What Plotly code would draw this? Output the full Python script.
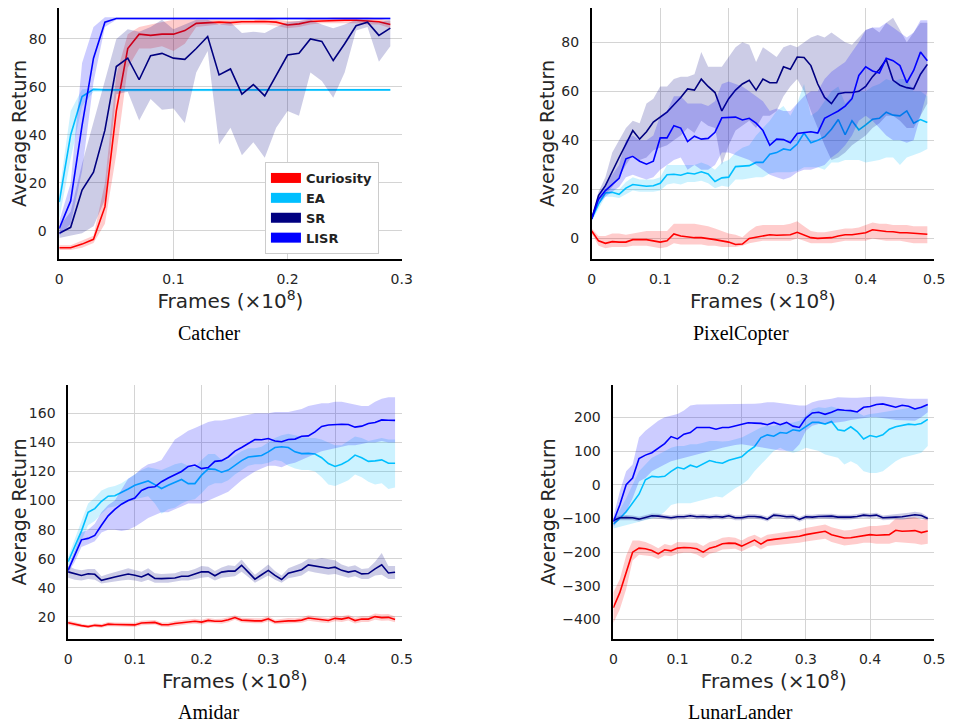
import plotly.graph_objects as go

# ---------------- data ----------------
series_names = ["Curiosity", "EA", "SR", "LISR"]
series_colors = ["#ff0000", "#00bfff", "#000080", "#0000ff"]
band_colors = ["rgba(255,0,0,0.2)", "rgba(0,191,255,0.2)", "rgba(0,0,128,0.2)", "rgba(0,0,255,0.2)"]
game_titles = ["Catcher", "PixelCopter", "Amidar", "LunarLander"]

x_catcher = [i / 100 for i in range(30)]
x_long = [i / 100 for i in range(50)]

# Catcher
cat_cur = [-7,-7,-5.5,-3.5,10,50,76,82,81.5,82,82,83.5,86.5,86.7,87,86.8,87.2,87.2,87.3,87,85.8,86.3,87.3,87.5,87.8,87.8,87.8,87.5,87.2,86]
cat_cur_lo = [-8,-8,-7,-5,3,32,68,76,76,77,75,78,85,85.5,86,85.5,86,86,86,85.5,84.5,85,86,86.5,86.5,86.5,86.5,86,86,84.5]
cat_cur_hi = [-6,-6,-4,-2,20,65,82,85,86,87,88,88,88,88,88,88,88,88,88.5,88,87.5,87.5,88.5,88.5,89,89,89,89,88.5,87.5]
cat_ea = [12,40,56,59,58.8,58.8,58.8,58.8,58.8,58.8,58.8,58.8,58.8,58.8,58.8,58.8,58.8,58.8,58.8,58.8,58.8,58.8,58.8,58.8,58.8,58.8,58.8,58.8,58.8,58.8]
cat_ea_lo = [5,30,52,58,58.3,58.3,58.3,58.3,58.3,58.3,58.3,58.3,58.3,58.3,58.3,58.3,58.3,58.3,58.3,58.3,58.3,58.3,58.3,58.3,58.3,58.3,58.3,58.3,58.3,58.3]
cat_ea_hi = [16,50,59,59.5,59.3,59.3,59.3,59.3,59.3,59.3,59.3,59.3,59.3,59.3,59.3,59.3,59.3,59.3,59.3,59.3,59.3,59.3,59.3,59.3,59.3,59.3,59.3,59.3,59.3,59.3]
cat_sr = [-1,1.5,17,24.5,42,68.5,72,63,73,74,72,71.5,76,81,65,67.5,57,61,56.3,64.5,73.3,74,80,79,71,78,85.5,87,81.5,84.5]
cat_sr_lo = [-3,-2,-1,2,13,57,58,46,55,50.5,51,45,66,75,36,43,31.5,37,30.5,43,50,48,66,62.5,55.5,66,83.5,85,70.5,77]
cat_sr_hi = [2,8,28,45,62,80,84,83,85,88,84,86,88,88,86,87,82.5,83,82.5,85,87,87.5,88,86,84.5,86,88,88,87,88]
cat_lisr = [1,12.5,44,72,87,88.5,88.5,88.5,88.5,88.5,88.5,88.5,88.5,88.5,88.5,88.5,88.5,88.5,88.5,88.5,88.5,88.5,88.5,88.5,88.5,88.5,88.5,88.5,88.5,88.5]
cat_lisr_lo = [-2,3,25,62,85,88,88,88,88,88,88,88,88,88,88,88,88,88,88,88,88,88,88,88,88,88,88,88,88,88]
cat_lisr_hi = [4,20,70,85,89,89,89,89,89,89,89,89,89,89,89,89,89,89,89,89,89,89,89,89,89,89,89,89,89,89]

# PixelCopter
pc_cur = [3,-1,-2,-1.3,-1.5,-1.5,-0.5,-0.5,-0.5,-1,-1.5,-1,1.8,1,0.5,0.3,0.3,0,-0.5,-1,-1.5,-2.5,-2.3,0,0.5,1.3,1.5,1.3,1.5,1.5,2.5,1.5,0.3,0,0,0.3,1,1.5,1.5,2,2.3,3.5,3,2.8,2.7,2.3,2.3,2,1.7,1.7]
pc_cur_lo = [2,-3,-4,-3.5,-3.5,-3.5,-3,-3,-3,-3.5,-4,-3.5,-2,-2.5,-2.5,-2.5,-2.5,-3,-3,-3.5,-3.5,-3.5,-3,-2,-1.5,-1,-1,-1,-1,-1,0,-1,-2,-2,-2,-2,-1.5,-1,-1,-1,-1,0,-0.5,-1,-1,-1,-1.5,-2,-2,-2]
pc_cur_hi = [4,1,1,2,2,1.5,2,2.5,3,3,3,3,6,6,6,6,5.5,5,4,3,2,1.5,0.5,3,5,5.5,5.5,5.5,5.5,6,7,5,3,2.5,2.5,3,3.5,4,4,4.5,5.5,6.5,6,6,5.5,5.5,5.5,5,5,5]
pc_ea = [8,14,18.5,18.8,18,20.5,22,21.5,21.3,21.5,22.5,26,26.2,25.8,26.7,26.3,27.2,26.3,23.2,24.7,25,29.3,29.4,29.7,31,31,34.3,35,36.5,36,38.5,43,39,40,41.5,44.5,48.5,42.3,48,44.3,46.3,48.6,49,51.5,50.3,50,52,47,48.5,47.3]
pc_ea_lo = [7,12,17,17,16.5,18,19.5,19,19,19,19.5,22,22.5,22,23,23,23.5,22.5,20.5,21.5,21,24,24,24.5,25,25,26.5,27,27,27,27.5,29,29,29,28,31,31,32,32,32,31,31.5,32,33,33,30,33,34,35,36.5]
pc_ea_hi = [9,16,20,20.5,20,23,25,24,24,24,25,30,30,30,30,30,31,30,28,31,32,35,37,38,42,45,48,52,54,50,55,63,50,52,56,60,62,55,58,60,60,62,63,65,64,65,65,60,60,58]
pc_sr = [8,17.5,21.5,27.5,33,38.5,44,40.5,43.5,47.5,49.5,51.5,54.5,57.5,61,60.5,65,62,59.5,52,57,60.5,63,64.5,60.5,65,63.5,63.5,70,69,74,73.8,70.5,63,57.5,55,59,59.5,59.5,60,62,66,69,73,64.5,62.5,61.5,61,67,71]
pc_sr_lo = [7,15,18,21,25,30,34,32,33,36,37,38,40,42,45,43,48,46,45,30,38,44,46,48,45,50,50,52,58,62,65,60,52,45,38,32,33,35,38,40,42,45,47,50,50,48,45,45,50,55]
pc_sr_hi = [9,19,25,35,40,45,48,47,55,57,62,62,65,66,66,67,76,70,70,70,74,78,80,79,72,78,76,74,78,79,78,80,82,83,82,84,82,80,79,82,85,86,84,88,90,85,80,84,88,88]
pc_lisr = [8,16,19.5,22,24.5,32.5,33.5,31.5,30.3,31.5,41,41,46,45,39.5,41.7,40.5,40.8,43.3,49.2,49.5,49.5,48.3,49,47,44,38,40.5,40.3,39,42.8,43.3,43.5,43,49,50.5,52,54,57,66.5,70,68.3,67.5,73.5,72.5,70.5,63.5,68.5,76,72.5]
pc_lisr_lo = [7,14,17,19,21,25,26,25,24,25,28,30,32,33,28,30,28,28,30,35,35,34,33,32,30,28,26,25,24,25,27,28,28,29,30,33,35,38,42,48,50,48,45,42,40,40,39,40,50,60]
pc_lisr_hi = [9,18,22,26,30,40,42,40,40,42,50,52,58,58,55,55,55,54,56,63,64,63,62,60,58,56,52,53,52,52,55,58,60,60,65,68,70,72,76,80,85,86,86,88,86,84,82,84,89,89]

# Amidar
am_cur = [16,14.8,14,13.3,14.2,13.8,15,14.8,14.8,14.7,14.5,15.8,16,16.2,14.7,14.6,15.5,16,16.6,17,16.4,17.6,17,17,18,19.6,17.8,17.4,17.3,17.3,18.7,16.5,17,17.3,17.3,17.8,19.2,18.5,18,17.5,19,18.5,19.5,17.5,18.5,18.5,20.2,19.5,19.7,18.2]
am_cur_lo = [14.5,13.5,12.8,12.3,13,12.5,13.5,13.5,13.3,13.2,13,14.3,14.5,14.7,13.2,13,13.8,14.3,15,15.3,14.8,16,15.5,15.3,16.3,18,16.2,15.8,15.7,15.7,17,15,15.3,15.5,15.7,16,17.3,16.7,16.2,15.8,17,16.5,17.5,15.5,16.5,16.5,18,17.3,17.5,16.3]
am_cur_hi = [17.5,16.2,15.3,14.5,15.4,15.2,16.5,16.2,16.3,16.2,16,17.3,17.5,17.8,16.2,16.2,17.2,17.7,18.3,18.7,18,19.3,18.5,18.7,19.8,21.2,19.5,19,19,19,20.5,18,18.7,19.2,19,19.6,21.2,20.3,19.8,19.2,21,20.5,21.5,19.5,20.5,20.5,22.3,21.8,22,20.2]
am_ea = [58,68,79,92,94.5,99.5,103,103.3,105.5,108,110.5,112,113.5,111,108.3,110.5,112.5,114.5,111.7,111.7,117.5,121.8,121.5,119.5,121,124.5,127.5,130,130.5,131,133.5,136.5,137,136.5,133.5,132.3,132.5,132,129.5,125.5,123.5,125,127.5,131.3,129.5,127,127.3,128,125.7,125.7]
am_ea_lo = [55,62,72,83,86,91,95,96,98,99,101,102,103,98,91,94,95,98,100,101,105,110,112,112,114,118,121,124,125,125,126,128,127,124,122,121,121,120,116,111,110,112,114,118,116,113,111,112,108,109]
am_ea_hi = [61,74,86,98,102,107,109,110,112,115,118,121,123,122,121,123,125,126,124,123,128,132,132,128,128,131,134,136,136,137,140,143,145,146,145,144,143,143,142,140,138,138,141,144,143,141,142,143,142,142]
am_sr = [51,49.5,48.5,49.7,49.3,45.2,46.5,47.5,48.5,49.5,48.7,47.5,49.5,46.5,46.3,46.6,46.8,48,48,49.5,51,51,48.3,50.8,51.5,51.5,55.5,50.8,46,49,52,48.5,45.7,50,51.5,52.5,55.8,55,54,53.5,54.2,52,50.8,51.7,49.6,49.8,53,55.8,50.2,50.7]
am_sr_lo = [47,45.5,45,46,45.5,43,43.5,44.5,45,45.5,45,44,45.5,43.5,43.5,43.5,44,45,45,46,47,47.5,45,47,47.5,48,51,47.5,43.5,46,48.5,45.5,43.5,46.5,47.5,48.5,51.5,50.5,49.5,49,49.5,48,47,48,46,46,48.5,49,46,46]
am_sr_hi = [55,53,52,53,53,48,49.5,50.5,52,53.5,52.5,51,53.5,50,49.5,50,50,51.5,51.5,53,55,54.5,51.5,54,55.5,55,59.5,54,49,52.5,56,51.5,48.5,53.5,55.5,57,60,59.5,60.5,59.5,59,56,54.5,55.5,53,53.5,58,64,55,55]
am_lisr = [52,62,73,74,76,83,89.5,94,97.5,100,101.7,107,109,109.5,113,115.5,117.5,120,123.5,124.5,122,122.7,127,127.5,130,134,136.5,139,142,141.8,142.7,141,140.5,142,142.3,144.3,144.5,147.3,151,152,152.5,152.5,152.3,150.5,151.2,153,153.7,155.5,155.3,155.2]
am_lisr_lo = [50,58,68,70,72,78,80,80,79,80,82,85,88,90,92,92,94,96,98,98,98,100,102,104,106,110,114,117,120,122,124,124,123,125,126,128,130,132,134,135,136,137,138,138,139,140,140,141,140,140]
am_lisr_hi = [54,66,78,80,84,92,97,100,108,115,118,122,125,126,128,135,142,145,148,150,152,154,155,155,156,157,158,159,160,160,160,161,161,161,162,163,165,166,167,167,168,168,167,166,165,165,168,170,171,171]

# LunarLander
ll_cur = [-365,-320,-260,-200,-188,-190,-195,-205,-193,-196,-188,-186,-187,-190,-200,-188,-183,-175,-173,-174,-182,-172,-164,-176,-165,-162,-160,-158,-156,-153,-148,-145,-141,-138,-148,-152,-158,-157,-154,-150,-148,-150,-150,-148,-135,-138,-137,-136,-142,-137]
ll_cur_lo = [-410,-370,-310,-225,-208,-210,-212,-220,-210,-212,-205,-202,-202,-207,-218,-205,-200,-192,-190,-190,-198,-188,-180,-192,-182,-180,-178,-176,-174,-172,-168,-165,-162,-160,-170,-175,-180,-178,-176,-172,-172,-175,-176,-175,-170,-172,-172,-174,-178,-175]
ll_cur_hi = [-320,-280,-210,-165,-165,-170,-178,-188,-176,-180,-170,-170,-170,-172,-182,-170,-165,-157,-155,-157,-165,-155,-148,-158,-148,-145,-143,-140,-138,-134,-128,-125,-120,-118,-126,-130,-136,-134,-130,-126,-122,-122,-120,-118,-100,-102,-98,-96,-104,-100]
ll_ea = [-117,-100,-80,-55,-28,15,25,23,25,40,52,47,58,52,63,72,67,64,73,79,83,100,113,140,148,144,155,153,163,160,172,185,185,180,188,163,160,172,158,136,146,142,148,165,172,175,180,178,182,194]
ll_ea_lo = [-130,-125,-120,-115,-110,-105,-100,-95,-80,-60,-55,-55,-55,-50,-45,-40,-35,-38,-25,-10,0,15,40,60,80,100,110,100,95,100,110,105,100,90,85,80,60,70,60,40,35,35,40,55,70,80,85,90,95,115]
ll_ea_hi = [-104,-75,-40,0,40,60,80,90,100,110,115,115,120,120,125,130,130,128,130,135,140,150,160,170,175,175,180,180,185,190,205,225,230,228,232,225,220,222,215,205,210,212,215,220,222,225,228,228,232,236]
ll_sr = [-106,-98,-97,-98,-102,-97,-92,-93,-95,-98,-95,-95,-92,-95,-94,-96,-94,-96,-92,-98,-98,-94,-94,-96,-102,-90,-92,-95,-94,-103,-95,-96,-94,-94,-93,-96,-97,-96,-94,-90,-92,-90,-98,-96,-96,-95,-92,-89,-91,-100]
ll_sr_lo = [-115,-105,-104,-105,-109,-104,-99,-100,-102,-105,-102,-102,-99,-102,-101,-103,-101,-103,-99,-105,-105,-101,-101,-103,-109,-97,-99,-102,-101,-110,-102,-103,-101,-101,-100,-103,-104,-103,-101,-97,-99,-97,-105,-103,-103,-104,-101,-98,-99,-106]
ll_sr_hi = [-97,-91,-90,-91,-95,-90,-85,-86,-88,-91,-88,-88,-85,-88,-87,-89,-87,-89,-85,-91,-91,-87,-87,-89,-95,-83,-85,-88,-87,-96,-88,-89,-87,-87,-86,-89,-90,-89,-87,-83,-85,-83,-91,-89,-89,-86,-83,-80,-83,-94]
ll_lisr = [-110,-60,0,20,78,88,95,108,122,143,136,150,155,170,171,170,165,170,170,175,178,184,183,182,178,185,178,185,174,170,198,213,215,209,215,223,221,220,216,230,232,238,240,236,230,236,233,225,230,238]
ll_lisr_lo = [-125,-100,-80,-40,10,20,40,50,60,70,75,80,85,90,95,100,105,110,115,118,120,118,115,112,108,105,102,100,100,120,160,175,180,180,182,185,188,192,195,198,200,200,198,195,192,190,190,190,200,215]
ll_lisr_hi = [-95,-20,40,60,140,160,175,190,200,205,210,220,235,238,238,238,238,238,240,240,240,240,240,242,245,245,242,240,238,235,235,245,250,252,255,260,258,258,258,260,260,262,262,260,258,255,255,255,255,255]

# tick labels
cat_xticks = [0, 0.1, 0.2, 0.3]
cat_xtext = ["0", "0.1", "0.2", "0.3"]
long_xticks = [0, 0.1, 0.2, 0.3, 0.4, 0.5]
long_xtext = ["0", "0.1", "0.2", "0.3", "0.4", "0.5"]
cat_yticks = [0, 20, 40, 60, 80]
pc_yticks = [0, 20, 40, 60, 80]
am_yticks = [20, 40, 60, 80, 100, 120, 140, 160]
ll_yticks = [-400, -300, -200, -100, 0, 100, 200]
ll_ytext = ["\u2212400", "\u2212300", "\u2212200", "\u2212100", "0", "100", "200"]

# ---------------- figure ----------------
games = [
    (x_catcher, [(cat_cur, cat_cur_lo, cat_cur_hi), (cat_ea, cat_ea_lo, cat_ea_hi),
                 (cat_sr, cat_sr_lo, cat_sr_hi), (cat_lisr, cat_lisr_lo, cat_lisr_hi)]),
    (x_long, [(pc_cur, pc_cur_lo, pc_cur_hi), (pc_ea, pc_ea_lo, pc_ea_hi),
              (pc_sr, pc_sr_lo, pc_sr_hi), (pc_lisr, pc_lisr_lo, pc_lisr_hi)]),
    (x_long, [(am_cur, am_cur_lo, am_cur_hi), (am_ea, am_ea_lo, am_ea_hi),
              (am_sr, am_sr_lo, am_sr_hi), (am_lisr, am_lisr_lo, am_lisr_hi)]),
    (x_long, [(ll_cur, ll_cur_lo, ll_cur_hi), (ll_ea, ll_ea_lo, ll_ea_hi),
              (ll_sr, ll_sr_lo, ll_sr_hi), (ll_lisr, ll_lisr_lo, ll_lisr_hi)]),
]

fig = go.Figure()
for gi, (xs, sers) in enumerate(games):
    xa = "x" if gi == 0 else f"x{gi+1}"
    ya = "y" if gi == 0 else f"y{gi+1}"
    for si, (mean, lo, hi) in enumerate(sers):
        fig.add_trace(go.Scatter(
            x=list(xs) + list(xs)[::-1], y=list(hi) + list(lo)[::-1],
            fill="toself", fillcolor=band_colors[si], line=dict(width=0),
            mode="lines", showlegend=False, hoverinfo="skip", xaxis=xa, yaxis=ya))
        fig.add_trace(go.Scatter(
            x=xs, y=mean, mode="lines", line=dict(color=series_colors[si], width=1.6),
            showlegend=False, name=series_names[si], xaxis=xa, yaxis=ya))

for si, nm in enumerate(series_names):
    fig.add_trace(go.Scatter(x=[None], y=[None], mode="lines", name=nm,
                             line=dict(color=series_colors[si], width=10),
                             xaxis="x", yaxis="y", showlegend=True))

# page body has an 8px margin: the figure occupies window pixels 8..957 x 8..723
OFF = 8
W, H = 957 - OFF, 723 - OFF
def xd(a, b):
    return [(a - OFF) / W, (b - OFF) / W]
def yd(top, bottom):
    return [1 - (bottom - OFF) / H, min(1.0, 1 - (top - OFF) / H)]

tick_font = dict(family="DejaVu Sans", size=14, color="#262626")
ytitle_font = dict(family="DejaVu Sans", size=19, color="#262626")
xtitle_font = dict(family="DejaVu Sans", size=20, color="#262626")
grid_col = "#d4d4d4"

def xaxis(dom, rng, tv, tt, anchor):
    return dict(domain=dom, range=rng, tickvals=tv, ticktext=tt, anchor=anchor,
                showline=True, linecolor="black", linewidth=1.5, mirror=False,
                showgrid=True, gridcolor=grid_col, gridwidth=1.2, zeroline=False,
                ticks="", tickfont=tick_font, ticklabelstandoff=6,
                title=dict(text="Frames (\u00d710<sup>8</sup>)", font=xtitle_font, standoff=0))

def yaxis(dom, rng, tv, tt, anchor):
    return dict(domain=dom, range=rng, tickvals=tv, ticktext=tt, anchor=anchor,
                showline=True, linecolor="black", linewidth=1.5, mirror=False,
                showgrid=True, gridcolor=grid_col, gridwidth=1.2, zeroline=False,
                ticks="", tickfont=tick_font, ticklabelstandoff=8,
                title=dict(text="Average Return", font=ytitle_font, standoff=2))

fig.update_layout(
    width=W, height=H, margin=dict(l=0, r=0, t=0, b=0),
    paper_bgcolor="white", plot_bgcolor="white",
    xaxis=xaxis(xd(56, 404), [0, 0.3], cat_xticks, cat_xtext, "y"),
    yaxis=yaxis(yd(8, 259), [-11.7, 92.9], cat_yticks, [str(v) for v in cat_yticks], "x"),
    xaxis2=xaxis(xd(597, 945), [0, 0.5], long_xticks, long_xtext, "y2"),
    yaxis2=yaxis(yd(8, 259), [-8.4, 94.0], pc_yticks, [str(v) for v in pc_yticks], "x2"),
    xaxis3=xaxis(xd(65, 404), [0, 0.5], long_xticks, long_xtext, "y3"),
    yaxis3=yaxis(yd(385, 639), [4.8, 179.5], am_yticks, [str(v) for v in am_yticks], "x3"),
    xaxis4=xaxis(xd(619, 945), [0, 0.5], long_xticks, long_xtext, "y4"),
    yaxis4=yaxis(yd(385, 639), [-457.6, 296], ll_yticks, ll_ytext, "x4"),
    legend=dict(x=(265 - OFF) / W, y=1 - (162 - OFF) / H, xanchor="left", yanchor="top",
                bgcolor="white", bordercolor="#cccccc", borderwidth=1,
                font=dict(family="DejaVu Sans", size=13, color="#222222", weight="bold"),
                itemwidth=30, tracegroupgap=0),
    showlegend=True,
)

title_pos = [(209, 333), (749, 333), (208, 712), (748, 712)]
for t, (px, py) in zip(game_titles, title_pos):
    fig.add_annotation(text=t, x=(px - OFF) / W, y=1 - (py - OFF) / H, xref="paper", yref="paper",
                       showarrow=False, xanchor="center", yanchor="middle",
                       font=dict(family="Liberation Serif", size=20, color="black"))

fig.write_html("out.html")
